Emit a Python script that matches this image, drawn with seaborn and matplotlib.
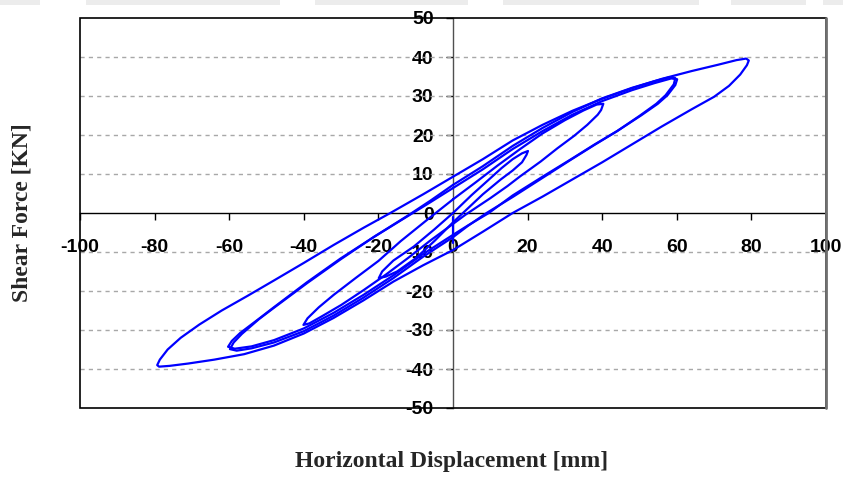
import numpy as np
import pandas as pd
import matplotlib
matplotlib.use("Agg")
import matplotlib.pyplot as plt
import seaborn as sns
from matplotlib.patches import Rectangle

# ---- data (displacement mm, shear force kN) ----
# initial jump at zero displacement
start_x = [0.0, 0.0]
start_y = [-0.9, -7.7]

# cycle at +/-20 mm
loop20_x = [0.0, 5.0, 10.0, 13.0, 16.0, 18.5, 20.1, 19.7, 18.5, 16.0, 12.8, 8.0, 4.0, 0.0, -5.0,
            -10.0, -15.0, -18.0, -19.9, -19.0, -16.0, -10.5, -5.0, 0.0]
loop20_y = [0.0, 4.6, 8.9, 11.5, 13.8, 15.3, 15.9, 14.9, 13.0, 10.9, 8.6, 4.8, 1.2, -2.4, -7.2,
            -11.6, -15.0, -16.3, -16.7, -15.0, -12.2, -8.6, -4.2, 0.0]

# cycle at +/-40 mm
loop40_x = [0.0, 6.0, 12.0, 18.0, 24.0, 30.0, 35.0, 38.5, 40.3, 39.7, 38.8, 36.0, 32.5, 28.0, 23.5,
            18.0, 14.6, 10.0, 5.6, 3.4, 0.0, -6.0, -12.0, -18.0, -24.0, -30.0, -35.0, -38.5, -40.1,
            -39.0, -36.0, -32.0, -26.0, -20.0, -14.0, -7.0, 0.0]
loop40_y = [3.5, 7.8, 12.2, 16.4, 20.4, 23.8, 26.3, 27.8, 28.0, 26.4, 25.2, 22.6, 19.8, 16.6, 13.2,
            9.4, 6.9, 3.8, 1.0, -0.4, -2.8, -7.0, -11.5, -15.8, -19.8, -23.6, -26.4, -28.3, -28.7,
            -27.0, -24.2, -21.0, -16.6, -12.3, -7.2, -1.8, 3.5]

# cycle at +/-60 mm (first pass)
loop60_x = [0.0, 8.0, 16.0, 24.0, 32.0, 40.0, 48.0, 54.0, 58.5, 60.1, 59.6, 57.5, 54.9, 50.4, 44.0,
            38.0, 32.0, 24.0, 16.0, 9.6, 4.0, 0.0, -8.0, -16.0, -24.0, -32.0, -40.0, -48.0, -54.0,
            -58.5, -60.3, -59.3, -57.1, -52.0, -48.2, -39.2, -30.2, -21.3, -12.3, -6.0, 0.0]
loop60_y = [6.4, 11.2, 16.4, 21.0, 25.2, 28.7, 31.5, 33.3, 34.5, 34.3, 32.8, 30.2, 28.0, 25.0, 21.0,
            17.6, 14.0, 9.3, 4.5, 0.0, -3.2, -5.6, -10.5, -16.0, -21.0, -25.6, -29.6, -32.6, -34.2,
            -34.8, -34.3, -32.8, -30.8, -27.1, -24.3, -17.8, -11.7, -6.2, -0.9, 2.8, 6.4]

# cycle at +/-60 mm (second pass, nearly on top of the first)
loop60b_x = [0.0, 8.0, 16.0, 24.0, 32.0, 40.0, 48.0, 54.0, 58.0, 59.6, 59.2, 57.0, 54.5, 50.0, 44.0,
             38.0, 32.0, 24.0, 16.0, 9.0, 4.0, 0.0, -8.0, -16.0, -24.0, -32.0, -40.0, -48.0, -54.0,
             -58.0, -59.8, -58.8, -56.6, -52.0, -48.0, -39.0, -30.0, -21.0, -12.0, -6.0, 0.0]
loop60b_y = [7.2, 12.0, 17.2, 21.8, 25.9, 29.4, 32.1, 33.8, 34.8, 34.6, 33.0, 30.2, 28.0, 24.9, 21.0,
             17.5, 13.9, 9.0, 4.1, 0.0, -3.3, -6.2, -11.2, -16.7, -21.7, -26.3, -30.3, -33.2, -34.7,
             -35.3, -34.9, -33.2, -31.0, -27.2, -24.3, -17.9, -11.8, -6.0, -0.6, 3.2, 7.2]

# cycle at +/-80 mm
loop80_x = [0.0, 8.0, 16.0, 24.0, 32.0, 40.0, 48.0, 56.0, 64.0, 71.0, 76.0, 78.6, 79.3, 78.8, 77.0,
            74.0, 70.0, 64.0, 56.0, 48.0, 40.0, 32.0, 24.0, 16.0, 8.0, 0.0, -8.0, -16.0, -24.0, -32.0,
            -40.0, -48.0, -56.0, -64.0, -71.0, -76.0, -78.8, -79.3, -78.6, -76.5, -73.0, -68.0,
            -62.0, -55.0, -48.0, -40.0, -32.0, -24.0, -16.8, -8.0, 0.0]
loop80_y = [9.3, 13.8, 18.6, 22.6, 26.2, 29.3, 32.0, 34.4, 36.4, 38.0, 39.2, 39.6, 39.1, 37.9, 35.5,
            32.6, 29.8, 26.6, 22.2, 17.6, 13.0, 8.6, 4.2, 0.0, -4.8, -9.5, -13.4, -17.6, -22.4, -26.9,
            -30.9, -34.0, -36.2, -37.6, -38.6, -39.2, -39.4, -39.0, -37.6, -35.0, -32.0, -28.6,
            -25.0, -21.2, -17.3, -12.8, -8.2, -3.8, 0.0, 4.8, 9.3]

xticks = [-100, -80, -60, -40, -20, 0, 20, 40, 60, 80, 100]
yticks = [-50, -40, -30, -20, -10, 0, 10, 20, 30, 40, 50]

# ---- long table, one unit per traced pass ----
parts = [(start_x, start_y), (loop20_x, loop20_y), (loop40_x, loop40_y),
         (loop60_x, loop60_y), (loop60b_x, loop60b_y), (loop80_x, loop80_y)]
frames = []
for i, (px, py) in enumerate(parts):
    frames.append(pd.DataFrame({"disp": px, "force": py, "pass": i}))
df = pd.concat(frames, ignore_index=True)

sns.set_theme(style="white")
plt.rcParams["font.family"] = ["Liberation Sans", "DejaVu Sans"]

fig = plt.figure(figsize=(8.43, 4.78), dpi=100)

# faint grey strip along the top edge of the picture
for x0, x1 in [(0, 40), (86, 280), (315, 468), (503, 699), (731, 806), (823, 843)]:
    fig.patches.append(Rectangle((x0 / 843, 1 - 5 / 478), (x1 - x0) / 843, 5 / 478,
                                 transform=fig.transFigure, color="#ececec", lw=0, zorder=0))

ax = fig.add_axes([80 / 843, 1 - 408 / 478, (826 - 80) / 843, (408 - 18) / 478])

for g in [-40, -30, -20, -10, 10, 20, 30, 40]:
    ax.axhline(g, color="#a8a8a8", lw=1.0, ls=(0, (3, 3)), zorder=1)

sns.lineplot(data=df, x="disp", y="force", units="pass", sort=False, estimator=None,
             color="#0000ff", lw=1.6, ax=ax, zorder=3)

ax.set_xlabel("")
ax.set_ylabel("")

for s in ["top", "right"]:
    ax.spines[s].set_visible(False)
ax.spines["left"].set_position(("data", 0))
ax.spines["bottom"].set_position(("data", 0))
ax.spines["left"].set_color("#505050")
ax.spines["bottom"].set_color("black")
ax.spines["left"].set_linewidth(1.0)
ax.spines["bottom"].set_linewidth(1.0)

ax.set_xlim(-100, 100)
ax.set_ylim(-50, 50)
ax.set_xticks(xticks)
ax.set_yticks(yticks)
ax.set_xticklabels([str(v) for v in xticks])
ax.set_yticklabels([str(v) for v in yticks])
ax.tick_params(axis="x", direction="out", length=5, width=1, pad=14, colors="black",
               bottom=True, labelsize=14)
ax.tick_params(axis="y", direction="out", length=5, width=1, pad=9, colors="black",
               left=True, labelsize=14)
for lab in ax.get_xticklabels() + ax.get_yticklabels():
    lab.set_fontweight("bold")

frame = Rectangle((0, 0), 1, 1, transform=ax.transAxes, fill=False, ec="black", lw=1.2,
                  clip_on=False, zorder=5)
ax.add_patch(frame)
ax.plot([1, 1], [0, 1], transform=ax.transAxes, color="#707070", lw=2.0, clip_on=False, zorder=6)

fig.text(452 / 843, 1 - 462 / 478, "Horizontal Displacement [mm]", ha="center", va="center",
         fontsize=17, fontweight="bold", family=["Liberation Serif", "DejaVu Serif"])
fig.text(22 / 843, 1 - 213 / 478, "Shear Force [KN]", ha="center", va="center", rotation=90,
         fontsize=17, fontweight="bold", family=["Liberation Serif", "DejaVu Serif"])

fig.savefig("out.png", dpi=100, facecolor="white")
